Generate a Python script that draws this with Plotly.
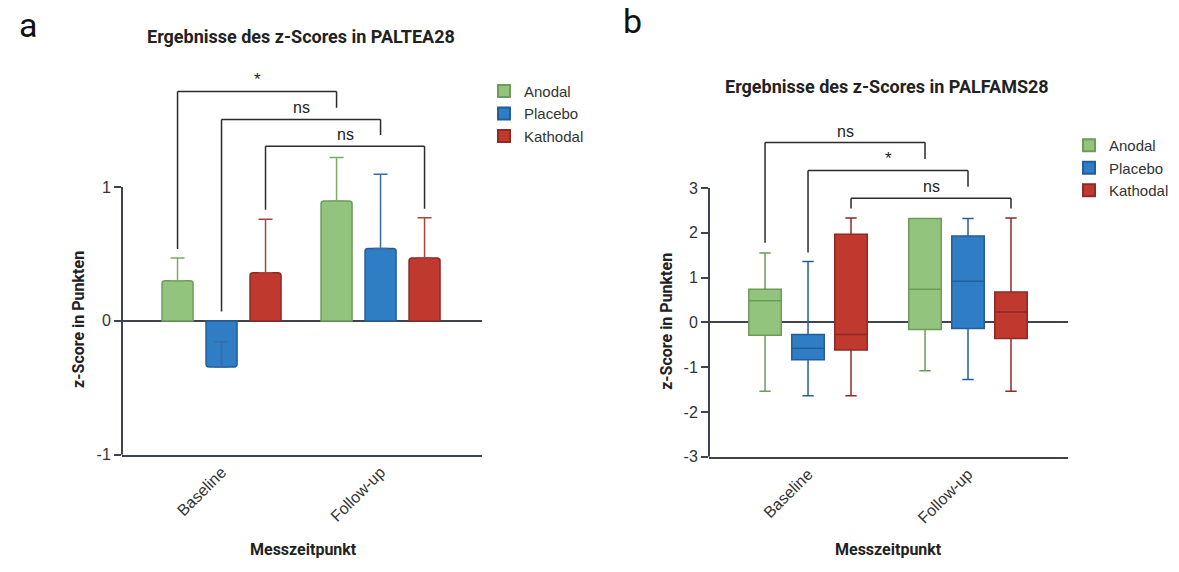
import plotly.graph_objects as go

# ---------------- data ----------------
categories = ["Baseline", "Follow-up"]
groups = ["Anodal", "Placebo", "Kathodal"]

# Panel a: mean values and upper error values
mean_anodal = [0.30, 0.895]
mean_placebo = [-0.345, 0.54]
mean_kathodal = [0.36, 0.47]
err_anodal = [0.17, 0.325]
err_placebo = [0.19, 0.555]
err_kathodal = [0.40, 0.30]

# Panel b: box statistics [Baseline, Follow-up]
lf_anodal = [-1.54, -1.08]
q1_anodal = [-0.29, -0.16]
med_anodal = [0.48, 0.74]
q3_anodal = [0.74, 2.32]
uf_anodal = [1.55, 2.32]

lf_placebo = [-1.64, -1.275]
q1_placebo = [-0.835, -0.14]
med_placebo = [-0.58, 0.92]
q3_placebo = [-0.27, 1.93]
uf_placebo = [1.36, 2.32]

lf_kathodal = [-1.64, -1.54]
q1_kathodal = [-0.615, -0.36]
med_kathodal = [-0.27, 0.23]
q3_kathodal = [1.965, 0.68]
uf_kathodal = [2.33, 2.33]

# Tick values / labels
ticks_a = [-1, 0, 1]
ticklabels_a = ["-1", "0", "1"]
ticks_b = [-3, -2, -1, 0, 1, 2, 3]
ticklabels_b = ["-3", "-2", "-1", "0", "1", "2", "3"]

# Significance brackets: (group, bracket height, left leg end, right leg end, label)
brackets_a = [("Anodal", 1.713, 0.537, 1.593, "*"),
              ("Placebo", 1.505, 0.071, 1.388, "ns"),
              ("Kathodal", 1.304, 0.831, 0.838, "ns")]
brackets_b = [("Anodal", 4.015, 1.78, 3.65, "ns"),
              ("Placebo", 3.39, 1.56, 3.03, "*"),
              ("Kathodal", 2.77, 2.54, 2.54, "ns")]

title_a = "Ergebnisse des z-Scores in PALTEA28"
title_b = "Ergebnisse des z-Scores in PALFAMS28"
ytitle = "z-Score in Punkten"
xtitle = "Messzeitpunkt"

# ---------------- style ----------------
fill = {"Anodal": "#93C47D", "Placebo": "#2F7DC4", "Kathodal": "#C0392F"}
edge = {"Anodal": "#6E9A5A", "Placebo": "#245E96", "Kathodal": "#8F2A24"}
errc = {"Anodal": "#7DAA68", "Placebo": "#3A6C9F", "Kathodal": "#A8443D"}
AX = "#3d4450"
FONT = "Roboto"
FONT2 = "Liberation Sans"
W, H = 1179, 572
BARGAP, BARGROUPGAP = 0.17, 0.295
BOXGAP, BOXGROUPGAP = 0.194, 0.244

means = {"Anodal": mean_anodal, "Placebo": mean_placebo, "Kathodal": mean_kathodal}
errs = {"Anodal": err_anodal, "Placebo": err_placebo, "Kathodal": err_kathodal}
boxes = {
    "Anodal": (lf_anodal, q1_anodal, med_anodal, q3_anodal, uf_anodal),
    "Placebo": (lf_placebo, q1_placebo, med_placebo, q3_placebo, uf_placebo),
    "Kathodal": (lf_kathodal, q1_kathodal, med_kathodal, q3_kathodal, uf_kathodal),
}

fig = go.Figure()

for g in groups:
    fig.add_trace(go.Bar(
        x=categories, y=means[g], name=g, showlegend=False,
        marker=dict(color=fill[g], line=dict(color=edge[g], width=1.5), cornerradius=3),
        error_y=dict(type="data", symmetric=False, array=errs[g], arrayminus=[0, 0],
                     color=errc[g], thickness=1.5, width=7),
        xaxis="x", yaxis="y"))
    fig.add_trace(go.Scatter(
        x=[None], y=[None], mode="markers", name=g, legend="legend",
        marker=dict(symbol="square", size=10, color=fill[g], line=dict(color=edge[g], width=1)),
        xaxis="x", yaxis="y"))

for g in groups:
    lf, q1, md, q3, uf = boxes[g]
    fig.add_trace(go.Box(
        x=categories, lowerfence=lf, q1=q1, median=md, q3=q3, upperfence=uf,
        name=g, showlegend=False, fillcolor=fill[g],
        line=dict(color=edge[g], width=1.5), whiskerwidth=0.35,
        boxpoints=False, hoverinfo="skip", xaxis="x2", yaxis="y2"))
    fig.add_trace(go.Scatter(
        x=[None], y=[None], mode="markers", name=g, legend="legend2",
        marker=dict(symbol="square", size=10, color=fill[g], line=dict(color=edge[g], width=1)),
        xaxis="x2", yaxis="y2"))

shapes = []
annotations = []

def add_brackets(brackets, slot, xref, yref):
    for g, ytop, yl, yr, lab in brackets:
        off = (groups.index(g) - 1) * slot
        x1, x2 = 0 + off, 1 + off
        for (a0, b0, a1, b1) in [(x1, yl, x1, ytop), (x1, ytop, x2, ytop), (x2, ytop, x2, yr)]:
            shapes.append(dict(type="line", xref=xref, yref=yref, x0=a0, y0=b0, x1=a1, y1=b1,
                               line=dict(color="#2b2b2b", width=1.5)))
        annotations.append(dict(xref=xref, yref=yref, x=(x1 + x2) / 2, y=ytop,
                                xanchor="center", yanchor="bottom",
                                yshift=1, text=lab, showarrow=False,
                                font=dict(family=FONT2, size=17 if lab == "*" else 16, color="#222")))

add_brackets(brackets_a, (1 - BARGAP) / 3, "x", "y")
add_brackets(brackets_b, (1 - BOXGAP) / 3, "x2", "y2")

# y-axis lines limited to tick span
shapes.append(dict(type="line", xref="x domain", yref="y", x0=0, x1=0, y0=-1, y1=1,
                   line=dict(color=AX, width=2)))
shapes.append(dict(type="line", xref="x2 domain", yref="y2", x0=0, x1=0, y0=-3, y1=3,
                   line=dict(color=AX, width=2)))

def px(x):
    return x / W

def py(y):
    return (H - y) / H

def note(x, y, text, size, weight=400, angle=0, color="#222", family=FONT):
    return dict(xref="paper", yref="paper", x=px(x), y=py(y), text=text, showarrow=False,
                xanchor="center", yanchor="middle", textangle=angle,
                font=dict(family=family, size=size, color=color, weight=weight))

annotations += [
    note(28, 25, "a", 34, color="#111"),
    note(632, 21, "b", 34, color="#111"),
    note(301, 37, title_a, 18, 700),
    note(887, 88, title_b, 18, 700),
    note(79, 325, ytitle, 16, 700, -90),
    note(667, 327, ytitle, 16, 700, -90),
    note(303, 558, xtitle, 16, 700),
    note(888, 558, xtitle, 16, 700),
]

tickfont = dict(family=FONT2, size=16, color="#333")
common_x = dict(type="category", showgrid=False, showline=True, linecolor=AX, linewidth=2,
                ticks="", tickangle=-45, tickfont=tickfont, zeroline=False, fixedrange=True)
common_y = dict(showgrid=False, showline=False, zeroline=True, zerolinecolor=AX, zerolinewidth=2,
                ticks="outside", ticklen=7, tickwidth=1.5, tickcolor=AX, tickfont=tickfont)

fig.update_layout(
    width=W, height=H, margin=dict(l=0, r=0, t=0, b=0),
    paper_bgcolor="white", plot_bgcolor="white",
    barmode="group", bargap=BARGAP, bargroupgap=BARGROUPGAP,
    boxmode="group", boxgap=BOXGAP, boxgroupgap=BOXGROUPGAP,
    xaxis=dict(domain=[px(122), px(482)], range=[-0.626, 1.638], anchor="y", **common_x),
    yaxis=dict(domain=[110 / H, 512 / H], range=[-1, 1.956], tickvals=ticks_a,
               ticktext=ticklabels_a, anchor="x", **common_y),
    xaxis2=dict(domain=[px(709), px(1068)], range=[-0.619, 1.625], anchor="y2", **common_x),
    yaxis2=dict(domain=[108 / H, 462 / H], range=[-3, 4.78], tickvals=ticks_b,
                ticktext=ticklabels_b, anchor="x2", **common_y),
    legend=dict(x=px(484), y=py(76), xanchor="left", yanchor="top", bgcolor="rgba(0,0,0,0)",
                font=dict(family=FONT2, size=15, color="#333"), itemsizing="constant"),
    legend2=dict(x=px(1069), y=py(131), xanchor="left", yanchor="top", bgcolor="rgba(0,0,0,0)",
                 font=dict(family=FONT2, size=15, color="#333"), itemsizing="constant"),
    shapes=shapes, annotations=annotations, showlegend=True,
    font=dict(family=FONT),
)

fig.write_html(
    "out.html", config={"displayModeBar": False},
    post_script=("document.body.style.margin='0';"
                 "document.body.style.overflow='hidden';"
                 "document.documentElement.style.overflow='hidden';"))
